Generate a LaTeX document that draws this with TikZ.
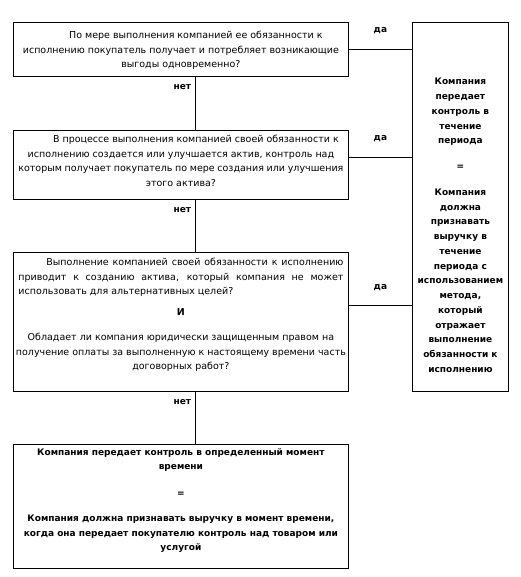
\documentclass[tikz,border=0pt]{standalone}
\usepackage{fontspec}
\setmainfont{DejaVu Sans}
\usetikzlibrary{positioning}

\begin{document}
\begin{tikzpicture}[x=1pt,y=-1pt,font=\fontsize{9.5}{14.5}\selectfont,
    box/.style={draw,line width=0.8pt,inner sep=0pt,anchor=north west},
    yes/.style={midway,yshift=19pt,font=\fontsize{9}{13}\selectfont\bfseries},
    no/.style={pos=0,anchor=east,xshift=-3pt,yshift=-10pt,inner sep=1pt,font=\fontsize{9}{13}\selectfont\bfseries}]
  \useasboundingbox (0,0) rectangle (520,577);

  % questions
  \node[box,minimum width=335pt] (q1) at (13,22) {\parbox[c][54pt][t]{325pt}{\centering\vspace*{9pt}%
    \hspace*{30pt}По мере выполнения компанией ее обязанности к\\
    исполнению покупатель получает и потребляет возникающие\\
    выгоды одновременно?}};
  \node[box,minimum width=335pt] (q2) at (13,130) {\parbox[c][69pt][t]{325pt}{\centering\vspace*{5pt}%
    \hspace*{30pt}В процессе выполнения компанией своей обязанности к\\
    исполнению создается или улучшается актив, контроль над\\
    которым получает покупатель по мере создания или улучшения\\
    этого актива?}};
  \node[box,minimum width=335pt] (q3) at (13,252) {\parbox[c][139pt][t]{325pt}{\vspace*{6pt}%
    \hspace*{28pt}\makebox[297pt][s]{Выполнение компанией своей обязанности к исполнению}\\
    \makebox[325pt][s]{приводит к созданию актива, который компания не может}\\
    использовать для альтернативных целей?\par\vspace{6.5pt}
    \centering\textbf{И}\\[10.5pt]
    Обладает ли компания юридически защищенным правом на\\
    \makebox[0pt]{получение оплаты за выполненную к настоящему времени часть}\\
    договорных работ?}};

  % results
  \node[box,minimum width=335pt] (pt) at (13,444) {\parbox[c][124pt][t]{325pt}{\centering\bfseries
    \fontsize{9}{14.5}\selectfont\vspace*{4pt}%
    Компания передает контроль в определенный момент\\
    времени\\[12pt]
    =\\[11pt]
    Компания должна признавать выручку в момент времени,\\
    когда она передает покупателю контроль над товаром или\\
    услугой}};
  \node[box,minimum width=96pt] (per) at (412,22) {\parbox[c][369pt][t]{94pt}{\centering\bfseries
    \fontsize{9}{14.75}\selectfont\vspace*{56pt}%
    Компания\\ передает\\ контроль в\\ течение\\ периода\\[11pt]
    =\\[11pt]
    Компания\\ должна\\ признавать\\ выручку в\\ течение\\ периода с\\ использованием\\
    метода,\\ который\\ отражает\\ выполнение\\ обязанности к\\ исполнению}};

  % connectors
  \coordinate (y1) at (q1.east);
  \coordinate (y2) at ([yshift=7.5pt]q2.east);
  \coordinate (y3) at ([yshift=16.5pt]q3.east);
  \draw (y1) -- (y1 -| per.west) node[yes] {да};
  \draw (y2) -- (y2 -| per.west) node[yes] {да};
  \draw (y3) -- (y3 -| per.west) node[yes,yshift=-1pt] {да};

  \draw ([xshift=14.5pt]q1.south) -- ([xshift=14.5pt]q2.north) node[no] {нет};
  \draw ([xshift=14.5pt]q2.south) -- ([xshift=14.5pt]q3.north) node[no] {нет};
  \draw ([xshift=14.5pt]q3.south) -- ([xshift=14.5pt]pt.north) node[no] {нет};
\end{tikzpicture}
\end{document}
